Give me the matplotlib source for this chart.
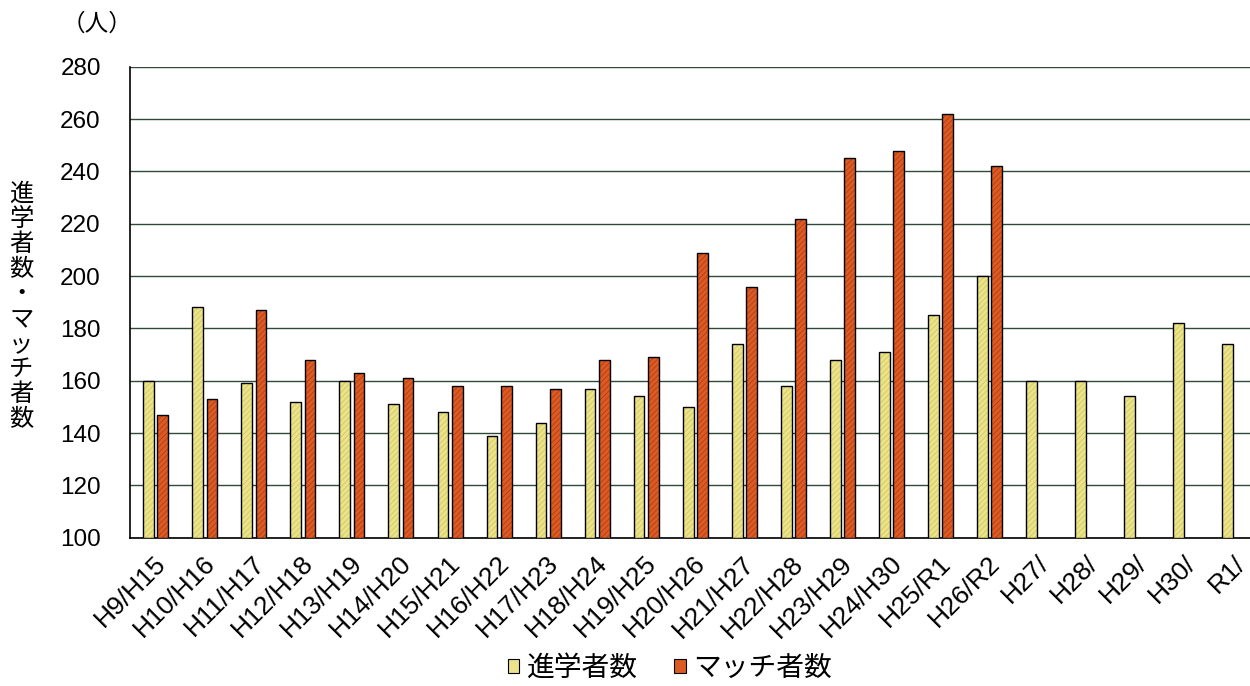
import numpy as np
import matplotlib
matplotlib.use("Agg")
import matplotlib.pyplot as plt
from matplotlib.patches import Patch
from matplotlib.transforms import ScaledTranslation

plt.rcParams['font.family'] = ['Liberation Sans', 'Noto Sans CJK JP', 'DejaVu Sans']
plt.rcParams['hatch.linewidth'] = 0.6

# 年度ラベル（進学年度/マッチ年度）
categories = ['H9/H15', 'H10/H16', 'H11/H17', 'H12/H18', 'H13/H19', 'H14/H20',
              'H15/H21', 'H16/H22', 'H17/H23', 'H18/H24', 'H19/H25', 'H20/H26',
              'H21/H27', 'H22/H28', 'H23/H29', 'H24/H30', 'H25/R1', 'H26/R2',
              'H27/', 'H28/', 'H29/', 'H30/', 'R1/']

# 進学者数
entrants = [160, 188, 159, 152, 160, 151, 148, 139, 144, 157, 154, 150,
            174, 158, 168, 171, 185, 200, 160, 160, 154, 182, 174]

# マッチ者数（H26/R2 まで）
matched = [147, 153, 187, 168, 163, 161, 158, 158, 157, 168, 169, 209,
           196, 222, 245, 248, 262, 242]

y_ticks = [100, 120, 140, 160, 180, 200, 220, 240, 260, 280]

yellow = '#ebe38c'
yellow_hatch = '#d3c85e'
red = '#dc5a24'
red_hatch = '#b33e14'

cjk = ['Noto Sans CJK JP', 'DejaVu Sans']

fig = plt.figure(figsize=(12.5, 6.86), dpi=100)
ax = fig.add_axes([130 / 1250, 148.3 / 686, 1128 / 1250, 470.9 / 686])

x_all = np.arange(len(categories))
x_match = np.arange(len(matched))
w = 0.22

def hatched_bars(x, h, face, stripe):
    ax.bar(x, np.array(h) - 100, width=w, bottom=100, color=face,
           edgecolor='none', zorder=3)
    ax.bar(x, np.array(h) - 100, width=w, bottom=100, color='none',
           edgecolor=stripe, hatch='//////', linewidth=0, zorder=3.5)
    ax.bar(x, np.array(h) - 100, width=w, bottom=100, color='none',
           edgecolor='black', linewidth=1.0, zorder=4)

hatched_bars(x_all - 0.12, entrants, yellow, yellow_hatch)
hatched_bars(x_match + 0.17, matched, red, red_hatch)

ax.set_xlim(-0.5, len(categories) - 0.5)
ax.set_ylim(100, 280)
ax.set_yticks(y_ticks)
ax.yaxis.grid(True, color='#2f4a39', linewidth=1.0)
ax.set_axisbelow(True)
ax.tick_params(axis='y', length=0, pad=21, labelsize=17.5)
ax.tick_params(axis='x', length=0, pad=16, labelsize=19)

ax.set_xticks(x_all)
ax.set_xticklabels(categories, rotation=45, ha='right', va='center',
                   rotation_mode='anchor')
shift = ScaledTranslation(8 / 100, 0, fig.dpi_scale_trans)
for lbl in ax.get_xticklabels():
    lbl.set_transform(lbl.get_transform() + shift)

for side in ['top', 'right']:
    ax.spines[side].set_visible(False)
for side in ['left', 'bottom']:
    ax.spines[side].set_color('black')
    ax.spines[side].set_linewidth(1.2)

# 縦書きの軸タイトル
ylabel = '進学者数・マッチ者数'
fig.text(0.017, 0.553, '\n'.join(ylabel), ha='center', va='center',
         fontsize=17.5, linespacing=0.95, family=cjk)
fig.text(0.078, 0.965, '（人）', ha='center', va='center', fontsize=17, family=cjk)

handles = [Patch(facecolor=yellow, edgecolor='black', linewidth=0.8, label='進学者数'),
           Patch(facecolor=red, edgecolor='black', linewidth=0.8, label='マッチ者数')]
fig.legend(handles=handles, loc='center', bbox_to_anchor=(0.536, 0.026), ncol=2,
           frameon=False, handlelength=0.42, handleheight=0.42, handletextpad=0.28,
           columnspacing=1.3, borderpad=0, prop={'family': cjk, 'size': 20})

fig.savefig('out.png', dpi=100, facecolor='white')
